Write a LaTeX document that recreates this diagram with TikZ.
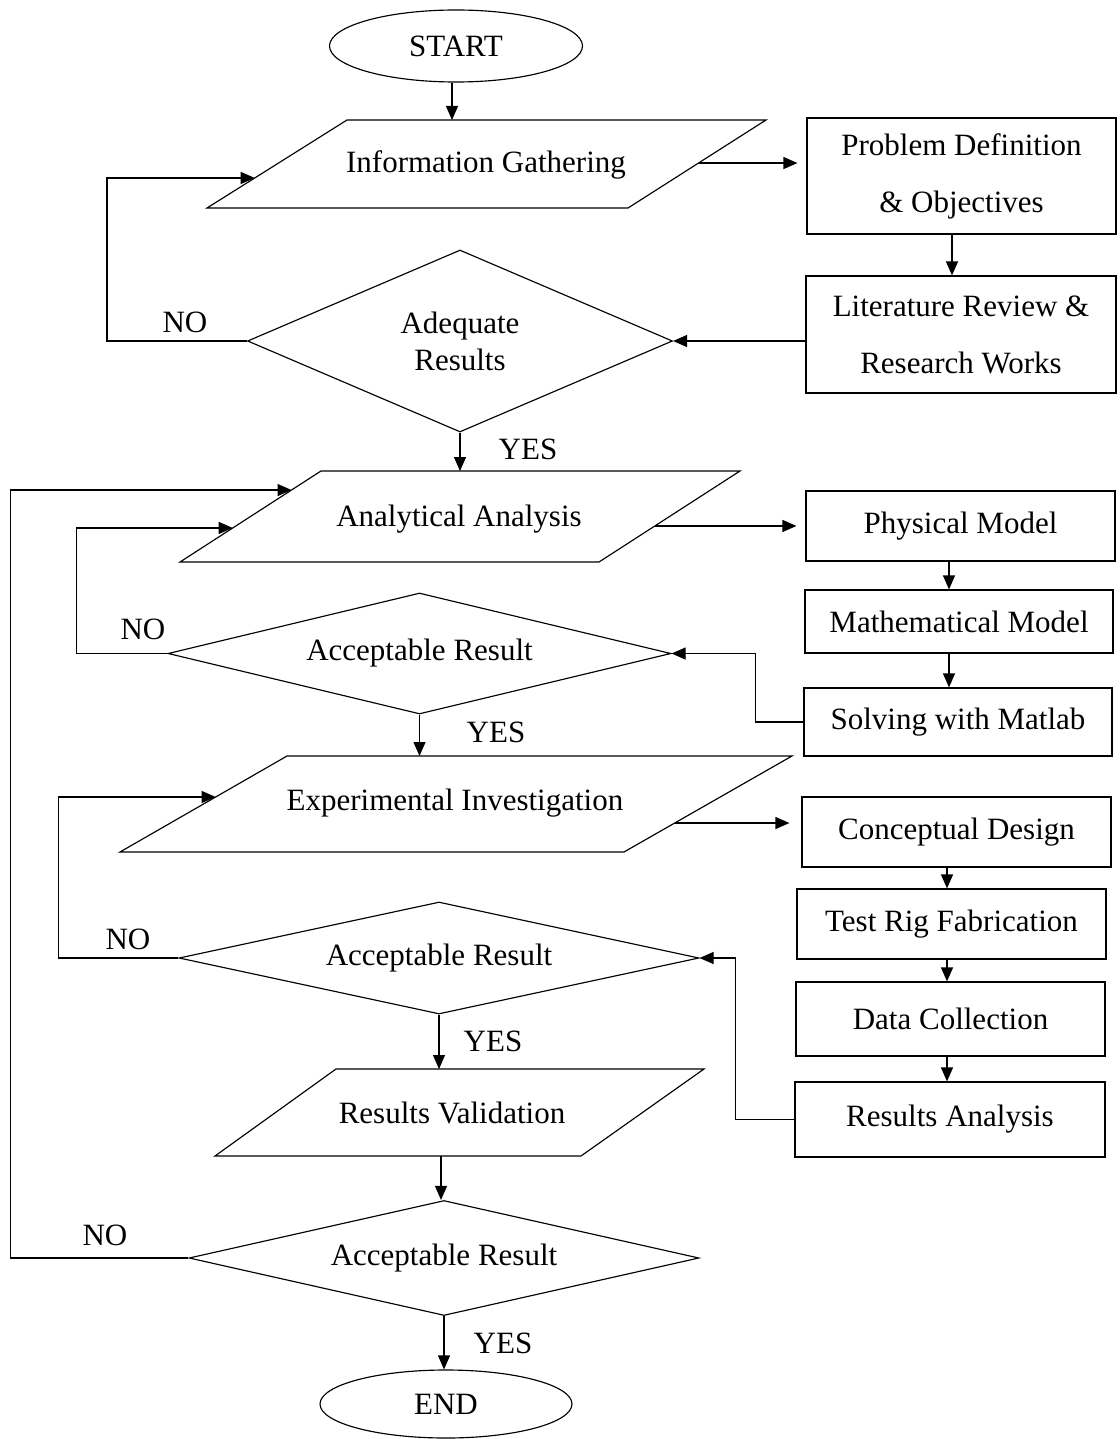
\documentclass[tikz,border=0pt]{standalone}
\usepackage{fontspec}
\setmainfont{Liberation Serif}
\usetikzlibrary{shapes.geometric,arrows.meta,calc}
\begin{document}
\begin{tikzpicture}[x=1pt,y=-1pt,
  every node/.style={font=\fontsize{31}{37}\selectfont},
  ln/.style={line width=1.15pt},
  arr/.style={ln,-{Triangle[length=14pt,width=12pt]}},
  term/.style={draw,ln,ellipse,inner sep=0pt},
  dec/.style={draw,ln,diamond,inner sep=0pt,align=center},
  box/.style={draw,ln,rectangle,inner sep=0pt,align=center},
  two/.style={font=\fontsize{31}{57}\selectfont},
  lbl/.style={inner sep=0pt}]
\useasboundingbox (0,0) rectangle (1119,1439);
% ---------- Start and information gathering
\node[term,minimum width=253pt,minimum height=72pt] (st) at (456,46) {START};
\coordinate (iBL) at (207,208); \coordinate (iTL) at (347,120);
\coordinate (iTR) at (766,120); \coordinate (iBR) at (628,208);
\draw[ln] (iBL)--(iTL)--(iTR)--(iBR)--cycle;
\node (info) at (486,165) {Information Gathering};
\coordinate (iIn) at (452,120);
\draw[arr] (st.south -| iIn) -- (iIn);
\node[box,two,minimum width=309pt,minimum height=116pt] (prob) at (961.5,176) {Problem Definition\\\& Objectives};
\node[box,two,minimum width=310pt,minimum height=117pt] (lit) at (961,334.5) {Literature Review \&\\Research Works};
\coordinate (iR) at ($(iBR)!0.511!(iTR)$);
\draw[arr,shorten >=9pt] (iR) -- (iR -| prob.west);
\coordinate (c1) at (952,0);
\draw[arr] (prob.south -| c1) -- (lit.north -| c1);
\node[dec,aspect=2.34,minimum width=425pt,minimum height=182pt] (adeq) at (460,341) {Adequate\\Results};
\draw[arr] (lit.west |- adeq.east) -- (adeq.east);
\coordinate (iL) at ($(iBL)!0.341!(iTL)$);
\draw[arr] (adeq.west) -- ++(-140,0) |- (iL);
\node[lbl] (no1) at (185,322) {NO};
% ---------- Analytical analysis
\coordinate (aBL) at (180,562); \coordinate (aTL) at (321,471);
\coordinate (aTR) at (740,471); \coordinate (aBR) at (599,562);
\draw[ln] (aBL)--(aTL)--(aTR)--(aBR)--cycle;
\node (ana) at (459,519) {Analytical Analysis};
\draw[arr] (adeq.south) -- (adeq.south |- aTL);
\node[lbl] (yes1) at (528,449) {YES};
\node[box,minimum width=309pt,minimum height=70pt] (phys) at (960.5,526) {Physical Model};
\node[box,minimum width=308pt,minimum height=63pt] (math) at (959,621.5) {Mathematical Model};
\node[box,minimum width=308pt,minimum height=68pt] (solv) at (958,722) {Solving with Matlab};
\coordinate (aR) at ($(aBR)!0.396!(aTR)$);
\draw[arr,shorten >=9pt] (aR) -- (aR -| phys.west);
\coordinate (c2) at (949,0);
\draw[arr] (phys.south -| c2) -- (math.north -| c2);
\draw[arr] (math.south -| c2) -- (solv.north -| c2);
\node[dec,aspect=4.16,minimum width=503pt,minimum height=121pt] (a1) at (419.5,653.5) {Acceptable Result};
\draw[arr] (solv.west) -- ++(-48,0) |- (a1.east);
\coordinate (aL) at ($(aBL)!0.374!(aTL)$);
\draw[arr] (a1.west) -- ++(-91,0) |- (aL);
\node[lbl] (no2) at (143,629) {NO};
\coordinate (aL2) at ($(aBL)!0.791!(aTL)$);
% ---------- Experimental investigation
\coordinate (eBL) at (120,852); \coordinate (eTL) at (287,756);
\coordinate (eTR) at (792,756); \coordinate (eBR) at (624,852);
\draw[ln] (eBL)--(eTL)--(eTR)--(eBR)--cycle;
\node (exp) at (455,803) {Experimental Investigation};
\draw[arr] (a1.south) -- (a1.south |- eTL);
\node[lbl] (yes2) at (496,732) {YES};
\node[box,minimum width=309pt,minimum height=70pt] (conc) at (956.5,832) {Conceptual Design};
\node[box,minimum width=309pt,minimum height=70pt] (test) at (951.5,924) {Test Rig Fabrication};
\node[box,minimum width=309pt,minimum height=74pt] (data) at (950.5,1019) {Data Collection};
\node[box,minimum width=310pt,minimum height=75pt] (resa) at (950,1119.5) {Results Analysis};
\coordinate (eR) at ($(eBR)!0.302!(eTR)$);
\draw[arr,shorten >=12pt] (eR) -- (eR -| conc.west);
\coordinate (c3) at (947,0);
\draw[arr] (conc.south -| c3) -- (test.north -| c3);
\draw[arr] (test.south -| c3) -- (data.north -| c3);
\draw[arr] (data.south -| c3) -- (resa.north -| c3);
\node[dec,aspect=4.64,minimum width=520pt,minimum height=112pt] (a2) at (439,958) {Acceptable Result};
\draw[arr] (resa.west) -- ++(-59,0) |- (a2.east);
\coordinate (eL) at ($(eBL)!0.573!(eTL)$);
\draw[arr] (a2.west) -- ++(-120,0) |- (eL);
\node[lbl] (no3) at (128,939) {NO};
% ---------- Results validation
\coordinate (rBL) at (215,1156); \coordinate (rTL) at (336,1069);
\coordinate (rTR) at (704,1069); \coordinate (rBR) at (581,1156);
\draw[ln] (rBL)--(rTL)--(rTR)--(rBR)--cycle;
\node (rv) at (452,1113) {Results Validation};
\draw[arr] (a2.south) -- (a2.south |- rTL);
\node[lbl] (yes3) at (493,1041) {YES};
\node[dec,aspect=4.43,minimum width=510pt,minimum height=115pt] (a3) at (444,1258) {Acceptable Result};
\coordinate (rOut) at (441,1156);
\draw[arr] (rOut) -- (rOut |- a3.north);
\draw[arr] (a3.west) -- ++(-178,0) |- (aL2);
\node[lbl] (no4) at (105,1235) {NO};
\node[term,minimum width=252pt,minimum height=68pt] (fin) at (446,1404) {END};
\draw[arr] (a3.south) -- (a3.south |- fin.north);
\node[lbl] (yes4) at (503,1343) {YES};
\end{tikzpicture}
\end{document}
